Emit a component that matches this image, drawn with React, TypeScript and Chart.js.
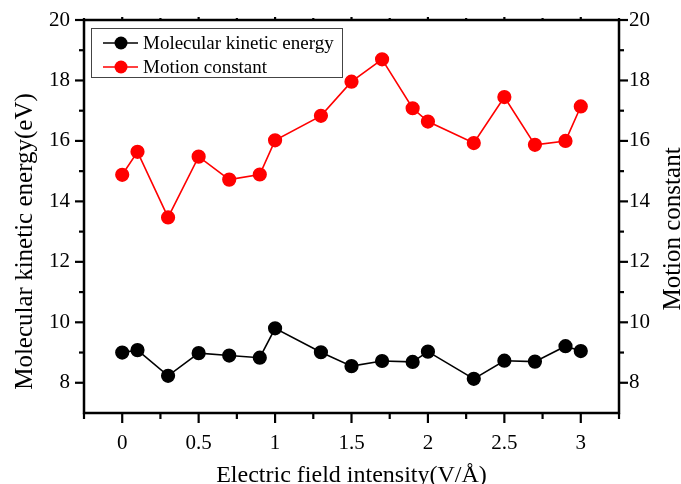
import React, { useEffect, useRef } from 'react';
import { Chart, registerables } from 'chart.js';

Chart.register(...registerables);

const fieldIntensity = [0, 0.1, 0.3, 0.5, 0.7, 0.9, 1.0, 1.3, 1.5, 1.7, 1.9, 2.0, 2.3, 2.5, 2.7, 2.9, 3.0];
const kineticEnergy = [9.0, 9.08, 8.23, 8.98, 8.9, 8.83, 9.8, 9.01, 8.55, 8.72, 8.69, 9.03, 8.13, 8.73, 8.7, 9.21, 9.05];
const motionConstant = [14.88, 15.64, 13.47, 15.48, 14.72, 14.89, 16.02, 16.83, 17.96, 18.7, 17.08, 16.64, 15.93, 17.45, 15.87, 16.0, 17.14];

const xMajorTicks = [0, 0.5, 1, 1.5, 2, 2.5, 3];
const xMinorTicks = [-0.25, 0.25, 0.75, 1.25, 1.75, 2.25, 2.75, 3.25];
const yMajorTicks = [8, 10, 12, 14, 16, 18, 20];
const yMinorTicks = [9, 11, 13, 15, 17, 19];

const xTitle = 'Electric field intensity(V/Å)';
const yLeftTitle = 'Molecular kinetic energy(eV)';
const yRightTitle = 'Motion constant';
const seriesNames = ['Molecular kinetic energy', 'Motion constant'];

const FONT = "'Liberation Serif', 'Times New Roman', serif";

export default function App() {
  const ref = useRef<HTMLCanvasElement>(null);

  useEffect(() => {
    document.body.style.margin = '0';
    const canvas = ref.current;
    if (!canvas) return;

    const framePlugin = {
      id: 'frame',
      afterDraw(chart: any) {
        const c = chart.ctx as CanvasRenderingContext2D;
        const a = chart.chartArea;
        const xs = chart.scales.x;
        const yl = chart.scales.y;
        const yr = chart.scales.y1;
        c.save();
        c.strokeStyle = '#000';
        c.lineWidth = 2.5;
        c.lineCap = 'square';
        c.strokeRect(a.left, a.top, a.right - a.left, a.bottom - a.top);

        c.lineCap = 'butt';
        c.lineWidth = 2.2;
        const line = (x1: number, y1: number, x2: number, y2: number) => {
          c.beginPath();
          c.moveTo(x1, y1);
          c.lineTo(x2, y2);
          c.stroke();
        };
        xMajorTicks.forEach((v) => {
          const p = xs.getPixelForValue(v);
          line(p, a.bottom, p, a.bottom + 10);
          line(p, a.top, p, a.top - 3);
        });
        xMinorTicks.forEach((v) => {
          const p = xs.getPixelForValue(v);
          line(p, a.bottom, p, a.bottom + 6);
          line(p, a.top, p, a.top - 2);
        });
        yMajorTicks.forEach((v) => {
          const p = yl.getPixelForValue(v);
          line(a.left, p, a.left - 9, p);
          const q = yr.getPixelForValue(v);
          line(a.right, q, a.right + 9, q);
        });
        yMinorTicks.forEach((v) => {
          const p = yl.getPixelForValue(v);
          line(a.left, p, a.left - 5, p);
          const q = yr.getPixelForValue(v);
          line(a.right, q, a.right + 5, q);
        });

        // titles
        c.fillStyle = '#000';
        c.font = `24px ${FONT}`;
        c.textAlign = 'center';
        c.textBaseline = 'alphabetic';
        c.fillText(xTitle, (a.left + a.right) / 2, 482);
        c.font = `25px ${FONT}`;
        c.save();
        c.translate(31.5, 241.5);
        c.rotate(-Math.PI / 2);
        c.fillText(yLeftTitle, 0, 0);
        c.restore();
        c.save();
        c.translate(680, 229);
        c.rotate(-Math.PI / 2);
        c.fillText(yRightTitle, 0, 0);
        c.restore();

        // legend
        c.lineWidth = 1;
        c.strokeStyle = '#444';
        c.strokeRect(91.5, 28.5, 251, 49);
        const rows = [43, 67];
        chart.data.datasets.forEach((ds: any, i: number) => {
          const y = rows[i];
          c.strokeStyle = ds.borderColor;
          c.lineWidth = 1.5;
          line(103, y, 138, y);
          c.fillStyle = ds.pointBackgroundColor;
          c.beginPath();
          c.arc(121, y, 6.5, 0, Math.PI * 2);
          c.fill();
          c.fillStyle = '#000';
          c.font = `19px ${FONT}`;
          c.textAlign = 'left';
          c.textBaseline = 'middle';
          c.fillText(seriesNames[i], 143, y + 1);
        });
        c.restore();
      },
    };

    const tickFont = { family: FONT, size: 21 };

    const fitVertical = (w: number) => (s: any) => {
      s.width = w;
      s.paddingTop = 0;
      s.paddingBottom = 0;
    };

    const chart = new Chart(canvas, {
      type: 'line',
      data: {
        datasets: [
          {
            label: seriesNames[0],
            data: fieldIntensity.map((x, i) => ({ x, y: kineticEnergy[i] })),
            borderColor: '#000000',
            backgroundColor: '#000000',
            pointBackgroundColor: '#000000',
            pointBorderColor: '#000000',
            pointRadius: 6.3,
            borderWidth: 1.6,
            yAxisID: 'y',
          },
          {
            label: seriesNames[1],
            data: fieldIntensity.map((x, i) => ({ x, y: motionConstant[i] })),
            borderColor: '#ff0000',
            backgroundColor: '#ff0000',
            pointBackgroundColor: '#ff0000',
            pointBorderColor: '#ff0000',
            pointRadius: 6.3,
            borderWidth: 1.6,
            yAxisID: 'y1',
          },
        ],
      },
      options: {
        responsive: false,
        animation: false,
        layout: { padding: { top: 20, left: 0, right: 0, bottom: 0 } },
        plugins: { legend: { display: false }, tooltip: { enabled: false } },
        scales: {
          x: {
            type: 'linear',
            min: -0.25,
            max: 3.25,
            grid: { display: false, drawTicks: false },
            border: { display: false },
            afterBuildTicks: (s: any) => {
              s.ticks = xMajorTicks.map((v) => ({ value: v }));
            },
            afterFit: (s: any) => {
              s.height = 71;
              s.paddingLeft = 0;
              s.paddingRight = 0;
            },
            ticks: {
              font: tickFont,
              color: '#000',
              padding: 18,
              maxRotation: 0,
              autoSkip: false,
              callback: (v: any) => String(v),
            },
          },
          y: {
            type: 'linear',
            position: 'left',
            min: 7,
            max: 20,
            grid: { display: false, drawTicks: false },
            border: { display: false },
            afterBuildTicks: (s: any) => {
              s.ticks = yMajorTicks.map((v) => ({ value: v }));
            },
            afterFit: fitVertical(84),
            ticks: { font: tickFont, color: '#000', padding: 14, autoSkip: false },
          },
          y1: {
            type: 'linear',
            position: 'right',
            min: 7,
            max: 20,
            grid: { display: false, drawTicks: false },
            border: { display: false },
            afterBuildTicks: (s: any) => {
              s.ticks = yMajorTicks.map((v) => ({ value: v }));
            },
            afterFit: fitVertical(62),
            ticks: { font: tickFont, color: '#000', padding: 10, autoSkip: false },
          },
        },
      },
      plugins: [framePlugin],
    });

    return () => chart.destroy();
  }, []);

  return (
    <div style={{ width: 681, height: 484 }}>
      <canvas ref={ref} width={681} height={484} style={{ display: 'block' }} />
    </div>
  );
}
